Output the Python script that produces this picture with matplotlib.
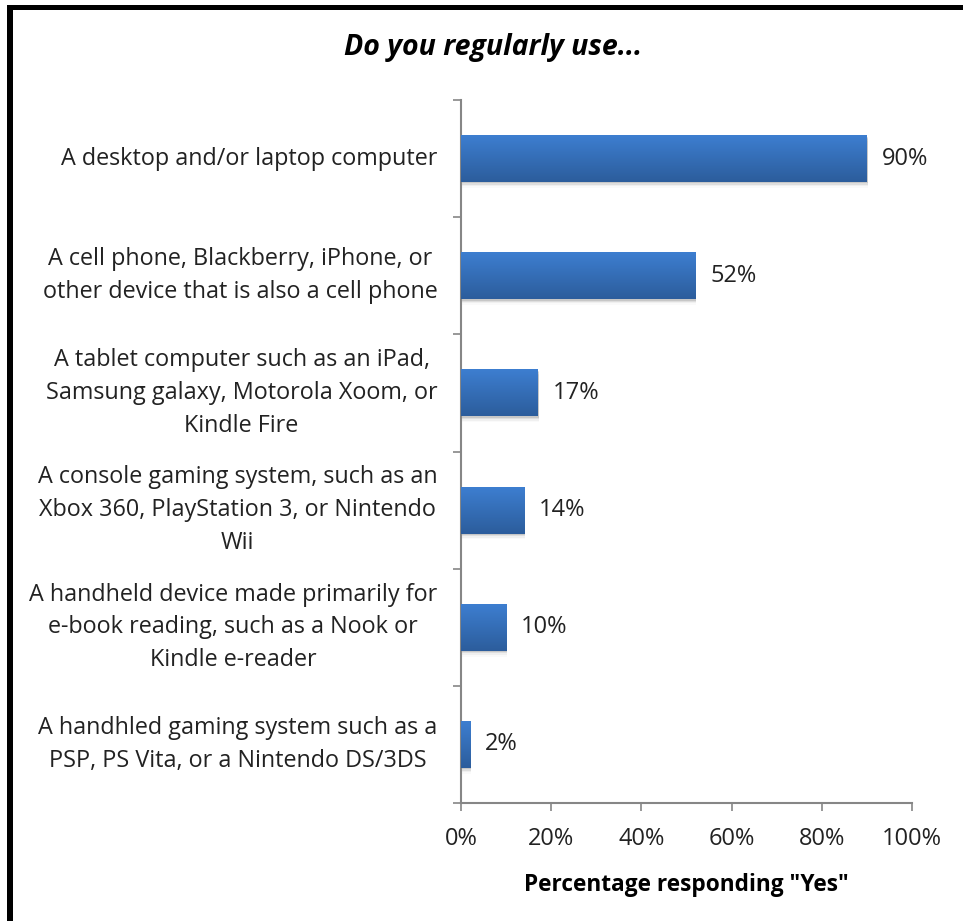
import numpy as np
import matplotlib.pyplot as plt
from matplotlib.patches import Rectangle
from matplotlib.colors import LinearSegmentedColormap

# survey answers, top to bottom
categories = [
    "A desktop and/or laptop computer",
    "A cell phone, Blackberry, iPhone, or\nother device that is also a cell phone",
    "A tablet computer such as an iPad,\nSamsung galaxy, Motorola Xoom, or\nKindle Fire",
    "A console gaming system, such as an\nXbox 360, PlayStation 3, or Nintendo\nWii",
    "A handheld device made primarily for\ne-book reading, such as a Nook or\nKindle e-reader",
    "A handhled gaming system such as a\nPSP, PS Vita, or a Nintendo DS/3DS",
]
pct_yes = [90, 52, 17, 14, 10, 2]
x_ticks = [0, 20, 40, 60, 80, 100]

plt.rcParams['font.family'] = ['Open Sans', 'DejaVu Sans']

fig = plt.figure(figsize=(9.63, 9.21), dpi=100)
ax = fig.add_axes([461/963, 1 - 803/921, (912 - 461)/963, (803 - 100)/921])

y = np.arange(len(categories))
bars = ax.barh(y, pct_yes, height=0.4, color='#3A73BF', zorder=3)

# vertical gradient + soft shadow on each bar
grad = np.linspace(0, 1, 64).reshape(-1, 1)
cmap = LinearSegmentedColormap.from_list('barfill', ['#3D7ED0', '#2C5D9C'])
for b in bars:
    x0, y0, w, h = b.get_x(), b.get_y(), b.get_width(), b.get_height()
    for k, a in [(0.012, 0.10), (0.024, 0.07), (0.036, 0.04), (0.05, 0.02)]:
        ax.add_patch(Rectangle((x0 + 0.2, y0 + k), w, h, facecolor='black', alpha=a,
                               edgecolor='none', zorder=2))
    im = ax.imshow(grad, cmap=cmap, aspect='auto', extent=(x0, x0 + w, y0 + h, y0),
                   zorder=4, interpolation='bilinear')
    im.set_clip_path(b)

for b, v in zip(bars, pct_yes):
    ax.text(v + 3.3, b.get_y() + b.get_height() / 2, f'{v}%', va='center', ha='left',
            fontsize=17, color='#222222')

ax.set_xlim(0, 100)
ax.set_ylim(len(categories) - 0.5, -0.5)
ax.set_xticks(x_ticks)
ax.set_xticklabels([f'{t}%' for t in x_ticks], fontsize=17, color='#222222')
ax.set_yticks(y)
ax.set_yticklabels(categories, fontsize=16.8, color='#222222', multialignment='center',
                   linespacing=1.48, va='center')
ax.tick_params(axis='y', length=0, pad=17)
ax.set_yticks(np.arange(-0.5, len(categories)), minor=True)
ax.tick_params(axis='y', which='minor', length=6, color='#868686', width=1.2)
ax.tick_params(axis='x', length=6, color='#868686', width=1.2, pad=11)

for s in ['top', 'right']:
    ax.spines[s].set_visible(False)
for s in ['left', 'bottom']:
    ax.spines[s].set_color('#868686')
    ax.spines[s].set_linewidth(1.5)

ax.set_xlabel('Percentage responding "Yes"', fontsize=16.3, fontweight='bold', labelpad=16)
fig.text(493/963, 1 - 48/921, 'Do you regularly use...', ha='center', va='center',
         fontsize=20.5, fontweight='bold', style='italic')

# black frame on the top and left edges
fig.patches.append(Rectangle((7/963, 0), 6/963, 1 - 5/921, transform=fig.transFigure,
                             facecolor='black', edgecolor='none'))
fig.patches.append(Rectangle((7/963, 1 - 10/921), 1, 5/921, transform=fig.transFigure,
                             facecolor='black', edgecolor='none'))

fig.savefig('out.png', dpi=100)
